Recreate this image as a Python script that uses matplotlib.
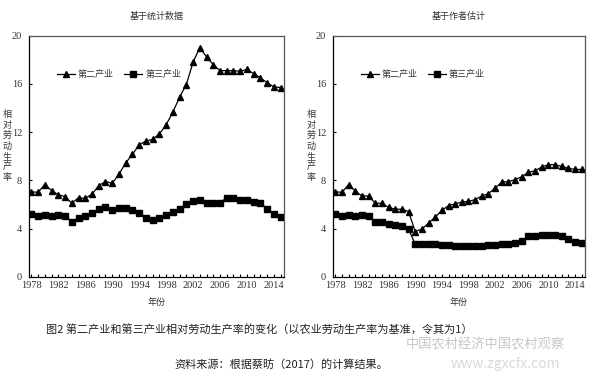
import matplotlib
matplotlib.use("Agg")
import matplotlib.pyplot as plt
import numpy as np

plt.rcParams['font.family'] = ['Noto Sans CJK SC', 'DejaVu Sans']

years = list(range(1978, 2016))

# 基于统计数据
left_secondary = [7.05, 7.0, 7.65, 7.15, 6.8, 6.65, 6.1, 6.55, 6.5, 6.85,
                  7.55, 7.9, 7.75, 8.5, 9.45, 10.15, 10.95, 11.25, 11.4, 11.85,
                  12.6, 13.65, 14.9, 15.95, 17.8, 19.0, 18.25, 17.6, 17.1, 17.1,
                  17.1, 17.05, 17.2, 16.85, 16.5, 16.1, 15.75, 15.7]
left_tertiary = [5.2, 5.05, 5.1, 5.05, 5.1, 5.05, 4.55, 4.9, 5.05, 5.3,
                 5.6, 5.8, 5.5, 5.7, 5.7, 5.55, 5.3, 4.9, 4.72, 4.9,
                 5.1, 5.4, 5.65, 6.05, 6.25, 6.4, 6.15, 6.1, 6.15, 6.55,
                 6.5, 6.4, 6.4, 6.2, 6.15, 5.6, 5.2, 4.95]

# 基于作者估计
right_secondary = [7.05, 7.0, 7.65, 7.1, 6.7, 6.7, 6.1, 6.1, 5.75, 5.6,
                   5.6, 5.4, 3.75, 3.95, 4.45, 4.95, 5.5, 5.9, 6.05, 6.2,
                   6.25, 6.4, 6.7, 6.9, 7.35, 7.85, 7.9, 8.05, 8.3, 8.65,
                   8.8, 9.1, 9.3, 9.3, 9.15, 9.0, 8.9, 8.9]
right_tertiary = [5.2, 5.0, 5.1, 5.0, 5.1, 5.0, 4.55, 4.55, 4.4, 4.3,
                  4.2, 3.95, 2.7, 2.7, 2.7, 2.7, 2.65, 2.6, 2.55, 2.55,
                  2.55, 2.55, 2.55, 2.6, 2.6, 2.7, 2.7, 2.8, 2.95, 3.35,
                  3.35, 3.45, 3.45, 3.45, 3.35, 3.15, 2.9, 2.8]

panel_titles = ['基于统计数据', '基于作者估计']
series_names = ['第二产业', '第三产业']
xticks = list(range(1978, 2015, 4))
yticks = [0, 4, 8, 12, 16, 20]
ylabel = '相对劳动生产率'
xlabel = '年份'
caption1 = '图2 第二产业和第三产业相对劳动生产率的变化（以农业劳动生产率为基准，令其为1）'
caption2 = '资料来源：根据蔡昉（2017）的计算结果。'

W, H = 595, 382
fig = plt.figure(figsize=(W / 100, H / 100), dpi=100)

def fx(px):
    return px / W

def fy(py):
    return 1 - py / H

axes_px = [(29, 284), (333, 585)]
top_px, bot_px = 35.7, 276.7
data = [(left_secondary, left_tertiary), (right_secondary, right_tertiary)]
txt_color = '#333333'
num_font = ['Liberation Serif', 'DejaVu Serif']

for i, ((x0, x1), (sec, ter)) in enumerate(zip(axes_px, data)):
    ax = fig.add_axes([fx(x0), fy(bot_px), fx(x1 - x0), (bot_px - top_px) / H])
    ax.plot(years, sec, color='black', lw=0.9, marker='^', ms=4.0,
            label=series_names[0])
    ax.plot(years, ter, color='black', lw=0.9, marker='s', ms=4.2,
            label=series_names[1])
    ax.set_xlim(1977.65, 2015.5)
    ax.set_ylim(0, 20)
    ax.set_xticks(xticks)
    ax.set_xticks(years, minor=True)
    ax.set_yticks(yticks)
    ax.tick_params(axis='x', which='both', direction='in', length=2.5,
                   width=0.8, pad=3, labelsize=7.5, colors='black',
                   labelcolor=txt_color)
    ax.tick_params(axis='y', which='both', direction='in', length=2.5,
                   width=0.8, pad=5, labelsize=7.5, labelcolor=txt_color)
    for lab in ax.get_xticklabels() + ax.get_yticklabels():
        lab.set_fontfamily(num_font)
    for s in ax.spines.values():
        s.set_linewidth(0.9)
        s.set_color('#555555')
    ax.spines['left'].set_color('black')
    ax.spines['bottom'].set_color('black')
    ax.set_title(panel_titles[i], fontsize=6.5, color=txt_color, pad=12)
    ax.set_xlabel(xlabel, fontsize=6.5, color=txt_color, labelpad=6)
    leg = ax.legend(ncol=2, frameon=False, loc='upper left',
                    bbox_to_anchor=(0.095, 0.873), fontsize=6.5,
                    handlelength=2.0, handletextpad=0.3, columnspacing=1.2,
                    borderaxespad=0)
    for t in leg.get_texts():
        t.set_color(txt_color)
    # vertical stacked y label
    fig.text(fx(x0 - 22), fy(146), '\n'.join(ylabel), fontsize=6.5,
             color=txt_color, ha='center', va='center', linespacing=1.2)

fig.text(fx(259), fy(329), caption1, fontsize=8, color='#222222',
         ha='center', va='center')
fig.text(fx(281), fy(364), caption2, fontsize=8, color='#222222',
         ha='center', va='center')

# faint watermark
fig.text(fx(485), fy(345), '中国农村经济中国农村观察', fontsize=9.5,
         color='#b8b8b8', ha='center', va='center', alpha=0.8)
fig.text(fx(505), fy(364), 'www.zgxcfx.com', fontsize=10,
         color='#d0d0d0', ha='center', va='center', alpha=0.8)

fig.savefig('out.png', dpi=100, facecolor='white')
